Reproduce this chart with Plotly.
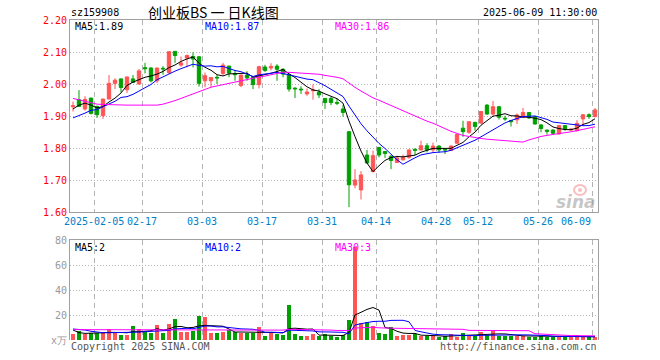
import plotly.graph_objects as go

# ---------------- data ----------------
dates = [
    "2025-01-22", "2025-01-23", "2025-01-24", "2025-01-27",
    "2025-02-05", "2025-02-06", "2025-02-07", "2025-02-10", "2025-02-11", "2025-02-12",
    "2025-02-13", "2025-02-14", "2025-02-17", "2025-02-18", "2025-02-19", "2025-02-20",
    "2025-02-21", "2025-02-24", "2025-02-25", "2025-02-26", "2025-02-27", "2025-02-28",
    "2025-03-03", "2025-03-04", "2025-03-05", "2025-03-06", "2025-03-07", "2025-03-10",
    "2025-03-11", "2025-03-12", "2025-03-13", "2025-03-14", "2025-03-17", "2025-03-18",
    "2025-03-19", "2025-03-20", "2025-03-21", "2025-03-24", "2025-03-25", "2025-03-26",
    "2025-03-27", "2025-03-28", "2025-03-31", "2025-04-01", "2025-04-02", "2025-04-03",
    "2025-04-07", "2025-04-08", "2025-04-09", "2025-04-10", "2025-04-11", "2025-04-14",
    "2025-04-15", "2025-04-16", "2025-04-17", "2025-04-18", "2025-04-21", "2025-04-22",
    "2025-04-23", "2025-04-24", "2025-04-25", "2025-04-28", "2025-04-29", "2025-04-30",
    "2025-05-06", "2025-05-07", "2025-05-08", "2025-05-09", "2025-05-12", "2025-05-13",
    "2025-05-14", "2025-05-15", "2025-05-16", "2025-05-19", "2025-05-20", "2025-05-21",
    "2025-05-22", "2025-05-23", "2025-05-26", "2025-05-27", "2025-05-28", "2025-05-29",
    "2025-05-30", "2025-06-03", "2025-06-04", "2025-06-05", "2025-06-06", "2025-06-09",
]

opens = [
    1.929, 1.951, 1.922, 1.956, 1.930, 1.901, 1.953, 2.002, 2.016, 1.982,
    2.016, 2.000, 2.051, 2.050, 2.010, 2.049, 2.036, 2.102, 2.059, 2.081,
    2.086, 2.085, 2.010, 2.010, 2.021, 2.033, 2.056, 2.033, 1.995, 2.028,
    2.021, 1.998, 2.053, 2.050, 2.056, 2.046, 2.030, 1.987, 1.984, 1.969,
    1.979, 1.974, 1.955, 1.955, 1.942, 1.922, 1.851, 1.684, 1.669, 1.778,
    1.726, 1.802, 1.789, 1.774, 1.755, 1.763, 1.771, 1.796, 1.794, 1.807,
    1.794, 1.806, 1.796, 1.792, 1.815, 1.862, 1.849, 1.880, 1.878, 1.934,
    1.906, 1.929, 1.893, 1.886, 1.888, 1.896, 1.911, 1.898, 1.872, 1.856,
    1.856, 1.844, 1.870, 1.856, 1.854, 1.891, 1.904, 1.898,
]
highs = [
    1.945, 1.981, 1.962, 1.957, 1.932, 1.954, 2.028, 2.018, 2.017, 2.023,
    2.028, 2.047, 2.066, 2.052, 2.051, 2.056, 2.102, 2.103, 2.086, 2.092,
    2.099, 2.087, 2.036, 2.021, 2.028, 2.066, 2.057, 2.044, 2.029, 2.040,
    2.022, 2.057, 2.060, 2.065, 2.062, 2.049, 2.031, 1.990, 1.993, 1.986,
    1.999, 1.984, 1.956, 1.960, 1.955, 1.934, 1.852, 1.734, 1.728, 1.794,
    1.792, 1.803, 1.790, 1.778, 1.776, 1.779, 1.795, 1.799, 1.823, 1.815,
    1.817, 1.809, 1.799, 1.809, 1.844, 1.885, 1.883, 1.882, 1.915, 1.937,
    1.947, 1.930, 1.901, 1.887, 1.908, 1.925, 1.912, 1.899, 1.875, 1.857,
    1.859, 1.870, 1.871, 1.860, 1.887, 1.904, 1.908, 1.925,
]
lows = [
    1.914, 1.928, 1.917, 1.905, 1.894, 1.891, 1.952, 1.984, 1.974, 1.972,
    2.003, 1.998, 2.033, 2.005, 2.003, 2.029, 2.031, 2.066, 2.054, 2.052,
    2.052, 1.992, 1.990, 1.990, 2.000, 2.026, 2.021, 2.010, 1.990, 2.010,
    1.984, 1.986, 2.038, 2.042, 2.010, 2.021, 1.976, 1.956, 1.969, 1.963,
    1.951, 1.956, 1.922, 1.934, 1.934, 1.898, 1.615, 1.674, 1.639, 1.752,
    1.725, 1.771, 1.769, 1.734, 1.754, 1.761, 1.766, 1.778, 1.792, 1.786,
    1.786, 1.785, 1.781, 1.791, 1.813, 1.835, 1.844, 1.854, 1.875, 1.904,
    1.901, 1.889, 1.885, 1.867, 1.875, 1.894, 1.891, 1.873, 1.849, 1.842,
    1.842, 1.842, 1.854, 1.855, 1.852, 1.870, 1.891, 1.896,
]
closes = [
    1.932, 1.930, 1.952, 1.908, 1.904, 1.953, 2.002, 2.012, 1.989, 2.022,
    2.005, 2.041, 2.048, 2.010, 2.050, 2.047, 2.101, 2.089, 2.066, 2.089,
    2.078, 2.002, 2.026, 2.020, 2.019, 2.059, 2.034, 2.029, 2.028, 2.019,
    1.998, 2.054, 2.042, 2.055, 2.046, 2.031, 1.984, 1.985, 1.982, 1.975,
    1.981, 1.966, 1.942, 1.942, 1.940, 1.911, 1.685, 1.700, 1.716, 1.753,
    1.776, 1.778, 1.783, 1.761, 1.769, 1.771, 1.794, 1.793, 1.807, 1.794,
    1.806, 1.794, 1.794, 1.806, 1.842, 1.851, 1.882, 1.867, 1.914, 1.906,
    1.929, 1.896, 1.891, 1.882, 1.903, 1.911, 1.894, 1.875, 1.861, 1.852,
    1.846, 1.870, 1.859, 1.859, 1.877, 1.904, 1.898, 1.919,
]
# volume in 万
volumes = [
    4.5, 7.2, 4.5, 5.3, 5.3, 6.7, 8.8, 5.3, 4.0, 4.0,
    11.2, 8.5, 7.5, 5.9, 12.0, 5.9, 12.8, 16.8, 6.7, 6.7,
    7.2, 19.2, 18.4, 5.6, 5.6, 6.4, 8.0, 6.1, 5.9, 5.3,
    5.3, 10.7, 3.2, 5.9, 4.5, 4.0, 28.0, 4.8, 3.2, 3.2,
    4.8, 3.5, 4.8, 3.2, 2.7, 3.7, 16.0, 74.5, 13.9, 14.4,
    11.2, 5.6, 4.8, 10.1, 3.2, 4.0, 4.0, 5.1, 3.2, 3.2,
    3.2, 2.1, 3.2, 4.5, 2.7, 5.6, 3.2, 3.5, 6.4, 4.0,
    7.5, 3.2, 3.2, 3.2, 3.5, 3.5, 2.7, 2.7, 3.0, 2.4,
    2.4, 2.4, 2.4, 2.6, 3.8, 2.4, 2.2, 2.2,
]
# moving-average values for days whose window starts before the first bar
ma5_head = [1.922, 1.934, 1.940, 1.934]
ma10_head = [1.894, 1.901, 1.909, 1.918, 1.920, 1.929, 1.937, 1.946, 1.958]
ma30_head = [1.955, 1.950, 1.946, 1.941, 1.937, 1.936, 1.935, 1.934, 1.934, 1.934,
             1.934, 1.934, 1.934, 1.934, 1.934, 1.937, 1.942, 1.948, 1.955, 1.961,
             1.969, 1.976, 1.984, 1.990, 1.994, 1.998, 2.003, 2.008, 2.012]
vma5_head = [8.0, 5.9, 5.3, 5.3]
vma10_head = [8.8, 8.5, 8.0, 7.0, 6.2, 5.8, 5.8, 5.9, 5.6]
vma30_head = [8.3, 8.3, 8.2, 8.2, 8.1, 8.1, 8.0, 8.0, 8.0, 7.9,
              7.9, 7.9, 7.9, 7.9, 8.0, 8.0, 8.0, 8.1, 8.1, 8.1,
              8.1, 8.2, 8.3, 8.3, 8.2, 8.2, 8.1, 8.1, 8.0]

tick_dates = ["2025-02-05", "2025-02-17", "2025-03-03", "2025-03-17", "2025-03-31",
              "2025-04-14", "2025-04-28", "2025-05-12", "2025-05-26", "2025-06-09"]
tick_labels = ["2025-02-05", "02-17", "03-03", "03-17", "03-31",
               "04-14", "04-28", "05-12", "05-26", "06-09"]
price_ticks = [1.60, 1.70, 1.80, 1.90, 2.00, 2.10, 2.20]
vol_ticks = [0, 20, 40, 60, 80]
vol_tick_text = ["x万", "20", "40", "60", "80"]

title_code = "sz159908"
title_name = "创业板BS 一 日K线图"
title_time = "2025-06-09 11:30:00"
ma_price_text = ["MA5:1.89", "MA10:1.87", "MA30:1.86"]
ma_vol_text = ["MA5:2", "MA10:2", "MA30:3"]


def rolling(values, n, head):
    out = list(head)
    for i in range(len(head), len(values)):
        w = values[i - n + 1:i + 1]
        out.append(sum(w) / n)
    return out


ma5 = rolling(closes, 5, ma5_head)
ma10 = rolling(closes, 10, ma10_head)
ma30 = rolling(closes, 30, ma30_head)
vma5 = rolling(volumes, 5, vma5_head)
vma10 = rolling(volumes, 10, vma10_head)
vma30 = rolling(volumes, 30, vma30_head)

# ---------------- styling ----------------
RED = "#ff5555"
GREEN = "#00a000"
MA_COLORS = ["#000000", "#0000ff", "#ff00ff"]
MONO = "DejaVu Sans Mono"
BORDER = "#a0a0a0"
GRID = "#b4b4b4"

x = list(range(len(dates)))
tick_pos = [dates.index(d) - 0.5 for d in tick_dates]

fig = go.Figure()

fig.add_trace(go.Candlestick(
    x=x, open=opens, high=highs, low=lows, close=closes,
    increasing=dict(line=dict(color=RED, width=1), fillcolor=RED),
    decreasing=dict(line=dict(color=GREEN, width=1), fillcolor=GREEN),
    whiskerwidth=0, xaxis="x", yaxis="y", showlegend=False, hoverinfo="skip",
))
for series, col in zip([ma5, ma10, ma30], MA_COLORS):
    fig.add_trace(go.Scatter(x=x, y=series, mode="lines", line=dict(color=col, width=1),
                             xaxis="x", yaxis="y", showlegend=False, hoverinfo="skip"))

bar_colors = [RED if c >= o else GREEN for o, c in zip(opens, closes)]
fig.add_trace(go.Bar(x=x, y=volumes, marker=dict(color=bar_colors, line=dict(width=0)),
                     width=0.8, xaxis="x2", yaxis="y2", showlegend=False, hoverinfo="skip"))
for series, col in zip([vma5, vma10, vma30], MA_COLORS):
    fig.add_trace(go.Scatter(x=x, y=series, mode="lines", line=dict(color=col, width=1),
                             xaxis="x2", yaxis="y2", showlegend=False, hoverinfo="skip"))

xcommon = dict(range=[-0.5, len(dates) - 0.5], tickvals=tick_pos, showticklabels=False,
               ticks="", showgrid=True, gridcolor=GRID, griddash="5px,4px", gridwidth=1,
               showline=True, linecolor=BORDER, linewidth=1, zeroline=False,
               fixedrange=True)

fig.update_layout(
    width=660, height=360,
    margin=dict(l=70, r=62, t=20, b=20),
    paper_bgcolor="white", plot_bgcolor="white",
    boxgap=0.2,
    bargap=0,
    xaxis=dict(domain=[0, 1], anchor="y", mirror=True, rangeslider=dict(visible=False), **xcommon),
    yaxis=dict(domain=[0.4, 1], anchor="x", range=[1.6, 2.2], tickvals=price_ticks,
               ticktext=["%.2f" % v for v in price_ticks],
               tickfont=dict(family=MONO, size=10, color="#ff0000"),
               ticks="", showgrid=True, gridcolor=GRID, griddash="1px,2px",
               showline=True, mirror=True, linecolor=BORDER, linewidth=1, zeroline=False),
    xaxis2=dict(domain=[0, 1], anchor="y2", side="top", **xcommon),
    yaxis2=dict(domain=[0, 0.3125], anchor="x2", range=[0, 80], tickvals=vol_ticks,
                ticktext=vol_tick_text,
                tickfont=dict(family=MONO, size=10, color="#999999"),
                ticks="", showgrid=True, gridcolor=GRID, griddash="1px,2px",
                showline=True, mirror=True, linecolor=BORDER, linewidth=1, zeroline=False),
    font=dict(family=MONO, size=10, color="#000000"),
)


def py(px):
    return (340 - px) / 320.0


def pxx(px):
    return (px - 70) / 528.0


ann = []
ann.append(dict(text=title_code, x=0, y=py(12), xanchor="left", yanchor="middle",
                font=dict(family=MONO, size=10, color="#000000")))
ann.append(dict(text=title_name, x=pxx(213), y=py(12), xanchor="center", yanchor="middle",
                font=dict(family="Noto Sans CJK SC", size=14, color="#000000")))
ann.append(dict(text=title_time, x=1, y=py(12), xanchor="right", yanchor="middle",
                font=dict(family=MONO, size=10, color="#000000")))
for txt, xp, col in zip(ma_price_text, [74, 204, 334], MA_COLORS):
    ann.append(dict(text=txt, x=pxx(xp), y=py(27), xanchor="left", yanchor="middle",
                    font=dict(family=MONO, size=10, color=col)))
for txt, xp, col in zip(ma_vol_text, [74, 204, 334], MA_COLORS):
    ann.append(dict(text=txt, x=pxx(xp), y=py(247), xanchor="left", yanchor="middle",
                    font=dict(family=MONO, size=10, color=col)))
for k, (lab, pos) in enumerate(zip(tick_labels, tick_pos)):
    last = k == len(tick_labels) - 1
    ann.append(dict(text=lab, x=pos, xref="x", y=py(221.5), yref="paper",
                    xanchor="right" if last else "center", yanchor="middle",
                    font=dict(family=MONO, size=10, color="#0080c8")))
ann.append(dict(text="Copyright 2025 SINA.COM", x=0, y=py(346.5), xanchor="left",
                yanchor="middle", font=dict(family=MONO, size=10, color="#555555")))
ann.append(dict(text="http://finance.sina.com.cn", x=1, y=py(346.5), xanchor="right",
                yanchor="middle", font=dict(family=MONO, size=10, color="#555555")))
ann.append(dict(text="<b><i>sina</i></b>", x=pxx(597), y=py(202), xanchor="right",
                yanchor="middle", font=dict(family="DejaVu Sans", size=17,
                                            color="rgba(150,150,150,0.55)")))

for a in ann:
    a.setdefault("xref", "paper")
    a.setdefault("yref", "paper")
    a["showarrow"] = False
    a["borderpad"] = 0
fig.update_layout(annotations=ann)

# sina eye logo (decoration) above the watermark text
fig.add_shape(type="circle", xref="paper", yref="paper",
              x0=pxx(574), x1=pxx(586), y0=py(195), y1=py(185),
              line=dict(color="rgba(240,110,110,0.45)", width=2),
              fillcolor="rgba(255,255,255,0)")
fig.add_shape(type="circle", xref="paper", yref="paper",
              x0=pxx(578), x1=pxx(582), y0=py(192), y1=py(188),
              line=dict(width=0), fillcolor="rgba(240,110,110,0.45)")

fig.write_html("out.html")
